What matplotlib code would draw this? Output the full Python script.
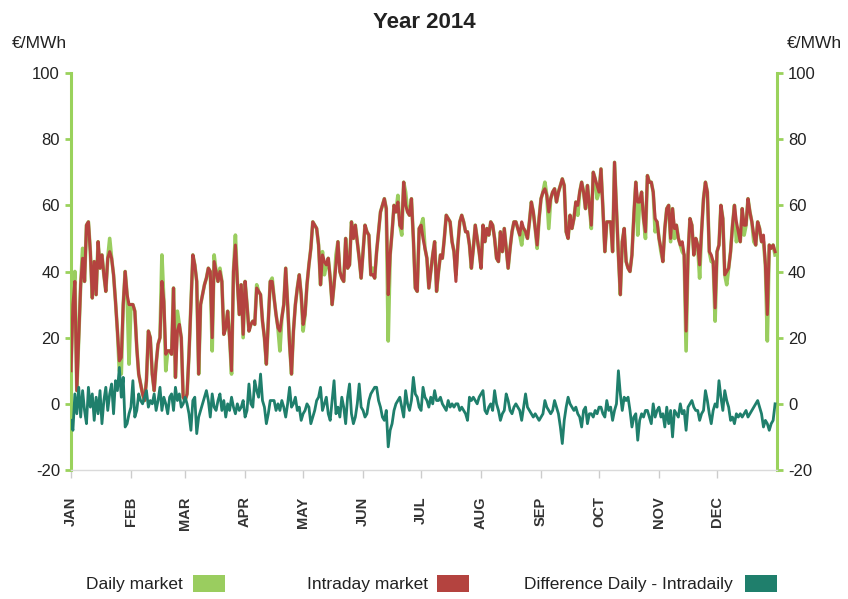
import matplotlib
matplotlib.use("Agg")
import matplotlib.pyplot as plt
from matplotlib.patches import Rectangle
from matplotlib import font_manager
import numpy as np

available = {f.name for f in font_manager.fontManager.ttflist}
families = [f for f in ['DejaVu Sans Condensed', 'Liberation Sans Narrow', 'Liberation Sans'] if f in available]
families.append('DejaVu Sans')
plt.rcParams['font.family'] = families
condensed = families[0] in ('DejaVu Sans Condensed', 'Liberation Sans Narrow')

months = ['JAN', 'FEB', 'MAR', 'APR', 'MAY', 'JUN', 'JUL', 'AUG', 'SEP', 'OCT', 'NOV', 'DEC']
month_days = [31, 28, 31, 30, 31, 30, 31, 31, 30, 31, 30, 31]

# Intraday market price (EUR/MWh), one value per day, by month
intraday_jan = [10, 30, 37, 4, 20, 36, 44, 37, 54, 55, 46, 32, 43, 33, 49, 41, 45, 39, 34, 44, 46, 44, 39, 31, 22, 13, 14, 30, 40, 33, 30]
intraday_feb = [30, 30, 28, 17, 9, 6, 3, 1, 7, 22, 20, 9, 4, 12, 18, 20, 37, 31, 15, 16, 16, 15, 35, 8, 22, 24, 20, 2]
intraday_mar = [1, 3, 15, 30, 45, 42, 37, 9, 30, 33, 36, 38, 41, 40, 20, 43, 40, 37, 40, 37, 21, 23, 28, 20, 10, 40, 48, 37, 27, 36, 21]
intraday_apr = [37, 30, 22, 24, 25, 24, 35, 34, 33, 25, 20, 12, 25, 37, 37, 32, 27, 23, 22, 26, 30, 41, 30, 18, 9, 22, 30, 35, 39, 33]
intraday_may = [24, 27, 36, 42, 47, 55, 54, 53, 48, 36, 45, 43, 42, 44, 38, 30, 36, 42, 49, 40, 38, 37, 50, 41, 42, 55, 50, 54, 49, 44, 38]
intraday_jun = [46, 54, 52, 51, 39, 39, 38, 46, 52, 58, 60, 62, 59, 33, 45, 52, 60, 58, 61, 54, 53, 67, 60, 58, 57, 62, 50, 35, 34, 53]
intraday_jul = [54, 50, 47, 44, 35, 40, 45, 49, 34, 40, 45, 44, 50, 57, 56, 55, 49, 46, 37, 48, 55, 57, 55, 52, 52, 48, 41, 47, 54, 50, 46]
intraday_aug = [41, 54, 49, 53, 51, 55, 54, 50, 44, 43, 52, 46, 53, 47, 41, 47, 52, 55, 55, 53, 51, 55, 53, 52, 50, 55, 61, 58, 53, 48, 56]
intraday_sep = [62, 64, 65, 63, 58, 62, 64, 65, 61, 64, 66, 68, 66, 52, 50, 57, 53, 56, 61, 60, 64, 67, 64, 59, 66, 60, 54, 70, 68, 66]
intraday_oct = [64, 71, 59, 46, 55, 55, 55, 46, 73, 59, 45, 33, 49, 53, 43, 41, 40, 45, 57, 67, 61, 61, 64, 56, 52, 69, 67, 67, 64, 56, 55]
intraday_nov = [50, 47, 43, 53, 59, 60, 50, 59, 53, 54, 50, 48, 49, 45, 22, 45, 56, 54, 45, 50, 48, 42, 52, 62, 67, 64, 46, 45, 43, 29]
intraday_dec = [46, 48, 60, 56, 39, 40, 41, 46, 54, 60, 55, 52, 49, 59, 54, 54, 62, 58, 55, 51, 48, 55, 53, 49, 51, 42, 27, 48, 47, 48, 46]

# Daily market price (EUR/MWh)
daily_jan = [10, 32, 40, 4, 20, 36, 47, 37, 54, 55, 46, 32, 43, 33, 49, 41, 45, 39, 34, 44, 50, 44, 39, 31, 22, 10, 9, 30, 40, 33, 12]
daily_feb = [30, 30, 28, 17, 9, 6, 3, 1, 7, 22, 20, 9, 4, 12, 18, 20, 45, 31, 10, 16, 16, 15, 35, 8, 28, 24, 20, 2]
daily_mar = [1, 3, 15, 30, 45, 42, 37, 9, 30, 33, 36, 38, 41, 40, 16, 45, 40, 37, 41, 37, 21, 23, 28, 20, 9, 40, 51, 37, 27, 36, 20]
daily_apr = [37, 30, 22, 24, 25, 24, 36, 34, 33, 25, 20, 12, 25, 37, 38, 32, 27, 23, 16, 26, 30, 41, 30, 18, 9, 22, 30, 35, 39, 33]
daily_may = [22, 27, 36, 42, 47, 55, 54, 53, 48, 36, 46, 39, 42, 44, 38, 30, 36, 45, 49, 40, 38, 37, 50, 41, 42, 55, 50, 54, 49, 44, 38]
daily_jun = [46, 54, 52, 51, 39, 41, 38, 46, 52, 58, 60, 62, 59, 19, 45, 52, 60, 58, 63, 54, 51, 67, 64, 58, 57, 62, 50, 35, 34, 53]
daily_jul = [54, 56, 47, 44, 35, 40, 45, 49, 34, 40, 45, 44, 50, 57, 56, 55, 49, 46, 39, 48, 55, 57, 55, 52, 52, 48, 41, 47, 54, 50, 46]
daily_aug = [41, 54, 49, 53, 51, 55, 54, 50, 44, 43, 52, 46, 53, 47, 41, 47, 52, 55, 55, 53, 51, 48, 53, 52, 50, 55, 61, 58, 53, 47, 56]
daily_sep = [62, 64, 67, 63, 53, 62, 64, 65, 61, 64, 66, 68, 66, 52, 50, 57, 53, 56, 61, 57, 64, 67, 64, 59, 66, 60, 53, 70, 68, 62]
daily_oct = [64, 71, 59, 46, 55, 55, 55, 46, 73, 59, 45, 33, 49, 53, 43, 41, 40, 45, 57, 67, 51, 61, 64, 56, 50, 69, 67, 67, 64, 52, 55]
daily_nov = [50, 46, 43, 53, 59, 60, 49, 59, 50, 54, 50, 48, 46, 45, 16, 45, 56, 54, 45, 50, 48, 38, 52, 62, 67, 64, 46, 43, 43, 25]
daily_dec = [46, 48, 60, 56, 39, 36, 41, 46, 54, 60, 49, 52, 49, 59, 51, 54, 62, 58, 55, 49, 48, 55, 53, 49, 49, 42, 19, 48, 47, 48, 45]

# Difference Daily - Intradaily (EUR/MWh)
diff_jan = [-5, -8, 3, -3, 5, -4, 4, -2, -6, 5, -1, 3, -5, 2, -3, 4, -6, 1, 5, -2, 3, 6, -3, 7, 4, 11, 2, 8, -7, -6, -3]
diff_feb = [-1, 7, -4, -2, 3, 1, 0, 2, 4, -1, 1, 0, 3, -2, 1, 5, -2, 2, 0, -3, 2, 3, -2, 5, 1, 3, -1, 0]
diff_mar = [2, 0, -3, -8, 1, 2, -9, -4, -2, 0, 2, 4, 1, -4, 3, -1, -2, 1, 3, -2, 1, -4, 0, -2, 2, -1, -3, 0, -2, -1, 1]
diff_apr = [-4, -2, 6, 0, -1, 7, 4, 2, 9, 1, -1, -6, -3, 1, 1, 1, -2, 0, -2, 1, -1, -4, 0, 5, -1, 0, 2, -2, -1, -5]
diff_may = [-3, -2, 0, -1, -6, -4, -2, 1, 2, 5, -2, 0, 2, -3, -5, 1, 7, -3, -1, -4, 2, -1, -6, 2, 6, -3, -6, -4, 0, 6, -1]
diff_jun = [-2, -4, -3, 1, 3, 4, 5, 5, 1, -1, -4, -5, -2, -13, -8, -6, -2, 0, 1, 2, -1, -4, 4, 0, -2, 1, 8, 3, 2, -1]
diff_jul = [-2, 5, 2, 1, -1, 2, 0, 4, 1, 1, 2, 0, -1, -2, 1, -1, 0, -1, 0, 0, -2, -1, -2, -3, -5, 2, 1, 2, 1, 0, 2]
diff_aug = [3, 4, -2, -3, -1, 0, -2, 4, 0, -2, -5, -3, -2, 3, 1, -2, -3, -1, 0, -1, -2, -5, -1, 3, -1, -2, -3, -4, -3, -4, -5]
diff_sep = [-4, -3, 1, -1, -2, -3, -2, 1, -1, -3, -7, -12, -5, -1, 2, 0, -1, -2, -1, -3, -4, -7, -2, -1, -6, -3, -3, -4, -2, -3]
diff_oct = [-1, -1, -3, -4, 1, -2, -1, -5, -2, 0, 10, 3, -2, 2, 1, 2, -2, -7, -4, -3, -11, -5, -3, -4, -2, -2, -4, -6, 0, -4, -2]
diff_nov = [-1, -4, -3, -7, -1, -6, -2, -10, -2, -3, -4, 0, -3, -2, -8, -1, 0, 1, -1, -2, -2, -5, -3, -2, 4, 1, -3, -6, -2, 0]
diff_dec = [-1, 7, 2, -2, 4, 1, -1, -5, -4, -6, -3, -4, -3, -4, -3, -2, -4, -3, -2, -1, 0, 1, -1, -3, -7, -5, -6, -8, -6, -5, 0]

y_ticks = [-20, 0, 20, 40, 60, 80, 100]

intraday = np.concatenate([intraday_jan, intraday_feb, intraday_mar, intraday_apr, intraday_may, intraday_jun,
                           intraday_jul, intraday_aug, intraday_sep, intraday_oct, intraday_nov, intraday_dec])
daily = np.concatenate([daily_jan, daily_feb, daily_mar, daily_apr, daily_may, daily_jun,
                        daily_jul, daily_aug, daily_sep, daily_oct, daily_nov, daily_dec])
diff = np.concatenate([diff_jan, diff_feb, diff_mar, diff_apr, diff_may, diff_jun,
                       diff_jul, diff_aug, diff_sep, diff_oct, diff_nov, diff_dec])
days = np.arange(len(intraday))
month_starts = np.concatenate([[0], np.cumsum(month_days)[:-1]])

GREEN = '#9acd5f'
RED = '#b4433f'
TEAL = '#1f7f6c'
SPINE = '#9ad25c'

# text sizes (larger when a condensed face is available)
k = 1.12 if condensed else 1.0
W, H = 848, 599
fig = plt.figure(figsize=(W / 100, H / 100), dpi=100)
ax = fig.add_axes([71 / W, 1 - 470 / H, (777 - 71) / W, (470 - 73) / H])

ax.plot(days, daily, color=GREEN, lw=2.6, solid_joinstyle='round', zorder=2)
ax.plot(days, intraday, color=RED, lw=2.2, solid_joinstyle='round', zorder=3)
ax.plot(days, diff, color=TEAL, lw=2.0, solid_joinstyle='round', zorder=4)

ax.set_xlim(0, 365)
ax.set_ylim(-20, 100)
ax.set_yticks(y_ticks)
ax.set_yticklabels([str(v) for v in y_ticks])
ax.set_xticks(month_starts)
ax.set_xticklabels(months, rotation=90, fontweight='bold', fontsize=10.5 * k, color='#333333')

ax.spines['top'].set_visible(False)
for s in ['left', 'right']:
    ax.spines[s].set_color(SPINE)
    ax.spines[s].set_linewidth(2.2)
ax.spines['bottom'].set_color('#dadada')
ax.spines['bottom'].set_linewidth(1.0)

ax.tick_params(axis='y', which='both', left=True, right=True, labelleft=True, labelright=True,
               direction='out', length=4, width=2, color=SPINE, labelsize=12 * k, labelcolor='#222222', pad=4)
ax.tick_params(axis='x', direction='out', length=6, width=1, color='#cccccc', pad=13)

# Title and unit labels
fig.text(0.5, 1 - 23 / H, 'Year 2014', ha='center', va='center', fontsize=16 * k, fontweight='bold', color='#222222')
fig.text(12 / W, 1 - 44 / H, '€/MWh', ha='left', va='center', fontsize=12.5 * k, color='#222222')
fig.text(787 / W, 1 - 44 / H, '€/MWh', ha='left', va='center', fontsize=12.5 * k, color='#222222')

# Legend
legend_items = [('Daily market', GREEN, 183, 193), ('Intraday market', RED, 428, 437),
                ('Difference Daily - Intradaily', TEAL, 733, 745)]
for label, col, text_right, box_left in legend_items:
    fig.text(text_right / W, 1 - 584 / H, label, ha='right', va='center', fontsize=12.5 * k, color='#222222')
    fig.patches.append(Rectangle((box_left / W, 1 - 592 / H), 32 / W, 17 / H, transform=fig.transFigure,
                                 facecolor=col, edgecolor='none'))

fig.savefig('out.png', dpi=100)
